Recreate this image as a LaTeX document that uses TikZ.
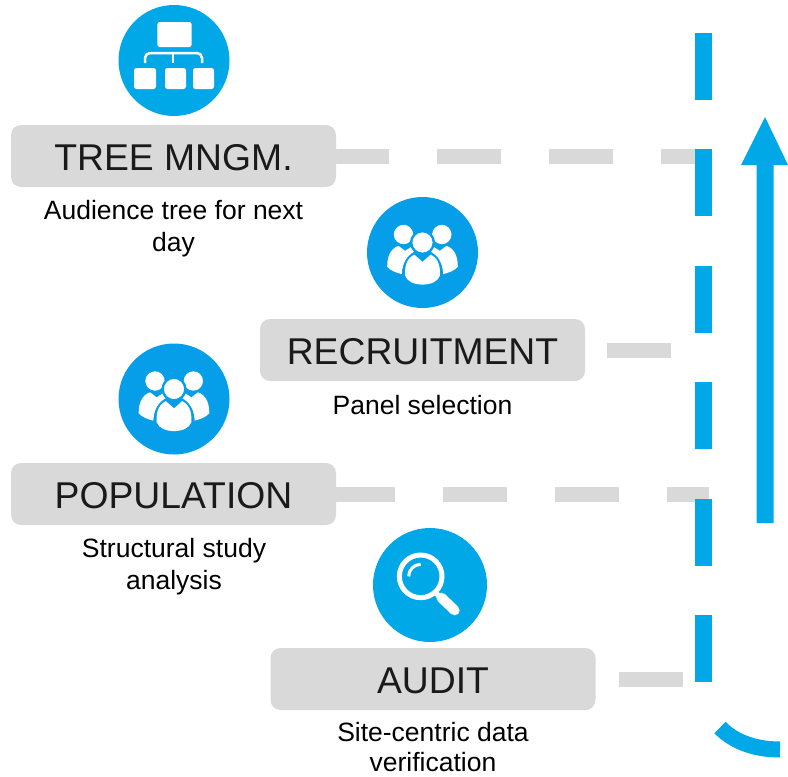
\documentclass[tikz,border=0pt]{standalone}
\usepackage{fontspec}
\setmainfont{Liberation Sans}
\definecolor{brandblue}{HTML}{00A8E8}
\definecolor{brandblueb}{HTML}{069EE8}
\definecolor{boxgrey}{HTML}{D9D9D9}
\definecolor{inktext}{HTML}{1A1A1A}
\tikzset{
  titlebox/.style={fill=boxgrey,rounded corners=10pt,minimum width=325pt,minimum height=62pt,inner sep=0pt,text=inktext,text height=28.7pt,text depth=0pt,font=\fontsize{37.3}{40}\selectfont},
  subtext/.style={align=center,inner sep=0pt,text=black,font=\fontsize{26.5}{32}\selectfont},
  greydash/.style={draw=boxgrey,line width=15pt,dash pattern=on 64pt off 48pt},
  bluedash/.style={draw=brandblue,line width=17pt,dash pattern=on 67pt off 49.4pt},
  iconwhite/.style={fill=white,draw=none},
  treeicon/.pic={
    \fill[brandblue] (0,0) circle (55.5);
    \fill[iconwhite,rounded corners=2.5pt] (-16.7,-38.5) rectangle (17.7,-13.5);
    \fill[iconwhite,rounded corners=2.5pt] (-40,7.5) rectangle (-18,28.5);
    \fill[iconwhite,rounded corners=2.5pt] (-9,7.5) rectangle (12,28.5);
    \fill[iconwhite,rounded corners=2.5pt] (19,7.5) rectangle (40,28.5);
    \draw[white,line width=2.5pt,rounded corners=5pt] (-29,2.5) -- (-29,-7.5) -- (28,-7.5) -- (28,2.5);
    \draw[white,line width=2.5pt] (-1,-7.5) -- (-1,2.5);
  },
  peopleicon/.pic={
    \fill[#1] (0,0) circle (55.5);
    \begin{scope}[scale=1/3]
      \fill[white] (-57,-54) circle (29);
      \fill[white] (58,-54) circle (29);
      \fill[white] (-106,43) .. controls (-106,10) and (-95,-12) .. (-72,-20) -- (-52,-5) -- (-32,-18) -- (-20,-5) .. controls (-50,15) and (-60,35) .. (-62,65) .. controls (-80,60) and (-95,55) .. (-106,43) -- cycle;
      \fill[white] (106,43) .. controls (106,10) and (95,-12) .. (72,-20) -- (52,-5) -- (32,-18) -- (20,-5) .. controls (50,15) and (60,35) .. (62,65) .. controls (80,60) and (95,55) .. (106,43) -- cycle;
      \fill[white,draw=#1,line width=2.4pt] (0,-30) circle (34);
      \fill[#1] (-60,78) .. controls (-64,30) and (-45,10) .. (-25,-2) -- (0,20) -- (25,-2) .. controls (45,10) and (64,30) .. (60,78) -- (0,110) -- cycle;
      \fill[white] (-52,70) .. controls (-55,30) and (-40,15) .. (-25,6) -- (0,28) -- (25,6) .. controls (40,15) and (55,30) .. (52,70) .. controls (40,105) and (-40,105) .. (-52,70) -- cycle;
    \end{scope}
  },
  lensicon/.pic={
    \fill[brandblue] (0,0) circle (57);
    \begin{scope}[scale=1/3]
      \draw[white,line width=5pt] (-28,-26) circle (64);
      \draw[white,line width=3pt] (-64,-26) arc (180:270:36);
      \draw[white,line width=5pt] (18,24) -- (40,46);
      \draw[white,line width=10pt,line cap=round] (34,38) -- (74,76);
    \end{scope}
  }
}
\begin{document}
\begin{tikzpicture}[x=1pt,y=-1pt]
\useasboundingbox (0,0) rectangle (788,777);
% icons
\pic at (174,60.5) {treeicon};
\pic at (422.5,252.5) {peopleicon=brandblueb};
\pic at (174,399) {peopleicon=brandblueb};
\pic at (430,585) {lensicon};
% boxes
\node[titlebox] (tree) at (173.5,156) {TREE MNGM.};
\node[titlebox] (recruit) at (422.5,350) {RECRUITMENT};
\node[titlebox] (pop) at (173.5,494) {POPULATION};
\node[titlebox] (audit) at (433,679) {AUDIT};
% sub labels
\node[subtext] (treesub) at (173.5,229) {Audience tree for next\\day};
\node[subtext] (recruitsub) at (422.5,405) {Panel selection};
\node[subtext] (popsub) at (174,566.5) {Structural study\\analysis};
\node[subtext,font=\fontsize{26.5}{30}\selectfont] (auditsub) at (433,747.5) {Site-centric data\\verification};
% end coordinates
\coordinate (treeend) at (703,156);
\coordinate (recruitend) at (671,350);
\coordinate (popend) at (709,494);
\coordinate (auditend) at (683,679);
\coordinate (railtop) at (703.5,33);
\coordinate (railbottom) at (703.5,682);
\coordinate (arctail) at (720,727.5);
\coordinate (archead) at (780,749.5);
\coordinate (arrowbase) at (765,523);
% grey connectors
\draw[greydash,dash phase=11pt] (tree.east) -- (treeend);
\draw[greydash,dash phase=90pt] (recruit.east) -- (recruitend);
\draw[greydash,dash phase=5pt] (pop.east) -- (popend);
\draw[greydash,dash phase=89pt] (audit.east) -- (auditend);
% blue rail
\draw[bluedash] (railtop) -- (railbottom);
\draw[draw=brandblue,line width=16pt] (arctail) .. controls (732,740) and (752,749.5) .. (archead);
% arrow
\fill[brandblue] (arrowbase) ++(-8.5,0) -- (756.5,165) -- (741,165) -- (765,117) -- (788,165) -- (773.5,165) -- (773.5,523) -- cycle;
\end{tikzpicture}
\end{document}
